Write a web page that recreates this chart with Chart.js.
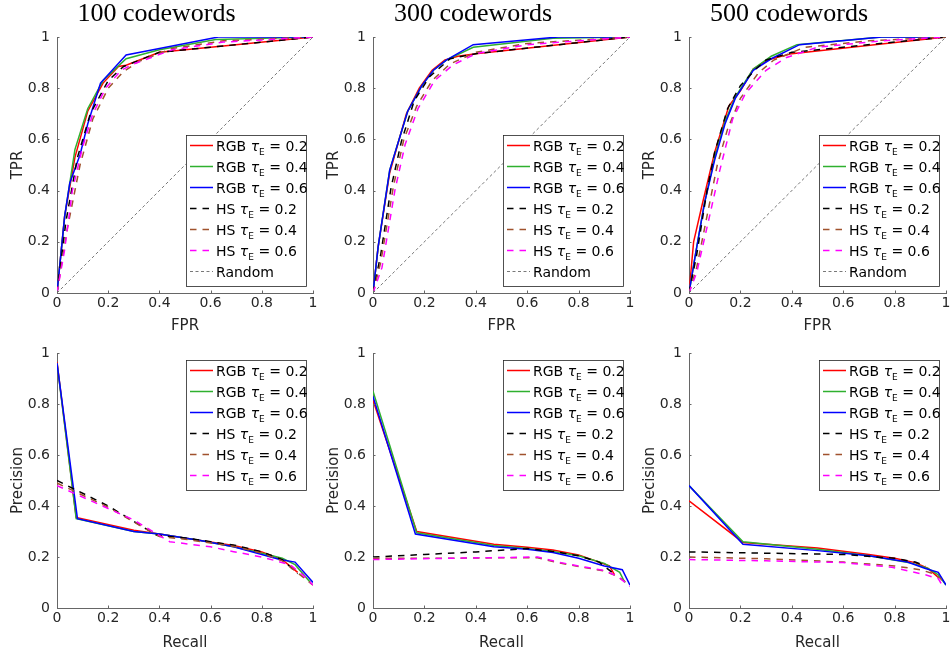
<!DOCTYPE html>
<html>
<head>
<meta charset="utf-8">
<script src="https://cdn.jsdelivr.net/npm/chart.js@4.4.0/dist/chart.umd.min.js"></script>
<style>
html, body { margin: 0; padding: 0; background: #fff; overflow: hidden; }
#wrap { position: relative; width: 951px; height: 654px; }
canvas { position: absolute; }
</style>
</head>
<body>
<div id="wrap">
    <canvas id="roc100"></canvas>
    <canvas id="roc300"></canvas>
    <canvas id="roc500"></canvas>
    <canvas id="pr100"></canvas>
    <canvas id="pr300"></canvas>
    <canvas id="pr500"></canvas>
</div>
<script>
// ---- data: [x, y] pairs ----
const panelTitles = ['100 codewords', '300 codewords', '500 codewords'];
const tickValues = [0, 0.2, 0.4, 0.6, 0.8, 1];
const randomLine = [[0, 0], [1, 1]];

// ROC, 100 codewords (FPR, TPR)
const roc100Rgb02 = [[0, 0], [0.03, 0.3], [0.07, 0.53], [0.12, 0.71], [0.18, 0.82], [0.24, 0.885], [0.27, 0.89], [0.4, 0.94], [0.65, 0.965], [1, 1]];
const roc100Rgb04 = [[0, 0], [0.03, 0.3], [0.07, 0.56], [0.12, 0.72], [0.18, 0.83], [0.27, 0.915], [0.4, 0.95], [0.62, 0.99], [1, 1]];
const roc100Rgb06 = [[0, 0], [0.03, 0.3], [0.05, 0.43], [0.09, 0.54], [0.12, 0.66], [0.17, 0.82], [0.27, 0.93], [0.4, 0.955], [0.63, 1], [1, 1]];
const roc100Hs02 = [[0, 0], [0.035, 0.28], [0.08, 0.53], [0.13, 0.7], [0.2, 0.83], [0.26, 0.885], [0.4, 0.94], [0.65, 0.965], [1, 1]];
const roc100Hs04 = [[0, 0], [0.04, 0.25], [0.09, 0.5], [0.14, 0.68], [0.2, 0.8], [0.26, 0.865], [0.32, 0.905], [0.45, 0.955], [0.65, 0.985], [1, 1]];
const roc100Hs06 = [[0, 0], [0.03, 0.17], [0.06, 0.4], [0.1, 0.57], [0.14, 0.7], [0.19, 0.8], [0.25, 0.87], [0.3, 0.895], [0.45, 0.95], [0.65, 0.98], [1, 1]];

// ROC, 300 codewords
const roc300Rgb02 = [[0, 0], [0.02, 0.18], [0.065, 0.47], [0.13, 0.7], [0.18, 0.8], [0.23, 0.87], [0.28, 0.91], [0.33, 0.925], [0.4, 0.935], [1, 1]];
const roc300Rgb04 = [[0, 0], [0.02, 0.18], [0.065, 0.48], [0.135, 0.71], [0.19, 0.81], [0.235, 0.87], [0.285, 0.91], [0.39, 0.96], [0.7, 0.995], [1, 1]];
const roc300Rgb06 = [[0, 0], [0.02, 0.18], [0.065, 0.48], [0.135, 0.71], [0.19, 0.81], [0.235, 0.87], [0.285, 0.91], [0.39, 0.97], [0.72, 1], [1, 1]];
const roc300Hs02 = [[0, 0], [0.03, 0.15], [0.07, 0.41], [0.11, 0.59], [0.16, 0.75], [0.22, 0.845], [0.3, 0.915], [0.4, 0.935], [1, 1]];
const roc300Hs04 = [[0, 0], [0.03, 0.12], [0.08, 0.42], [0.12, 0.6], [0.17, 0.73], [0.23, 0.83], [0.3, 0.895], [0.4, 0.94], [0.6, 0.975], [1, 1]];
const roc300Hs06 = [[0, 0], [0.035, 0.1], [0.085, 0.4], [0.125, 0.58], [0.175, 0.72], [0.24, 0.83], [0.31, 0.89], [0.4, 0.935], [0.6, 0.97], [1, 1]];

// ROC, 500 codewords
const roc500Rgb02 = [[0, 0], [0.018, 0.2], [0.05, 0.34], [0.1, 0.55], [0.155, 0.73], [0.2, 0.79], [0.25, 0.875], [0.305, 0.91], [0.4, 0.935], [1, 1]];
const roc500Rgb04 = [[0, 0], [0.025, 0.15], [0.06, 0.35], [0.1, 0.53], [0.14, 0.67], [0.18, 0.765], [0.25, 0.875], [0.32, 0.925], [0.42, 0.97], [0.75, 1], [1, 1]];
const roc500Rgb06 = [[0, 0], [0.025, 0.15], [0.06, 0.35], [0.1, 0.52], [0.14, 0.66], [0.18, 0.76], [0.25, 0.87], [0.32, 0.915], [0.43, 0.97], [0.75, 1], [1, 1]];
const roc500Hs02 = [[0, 0], [0.03, 0.15], [0.07, 0.4], [0.1, 0.55], [0.15, 0.72], [0.2, 0.81], [0.26, 0.875], [0.3, 0.91], [0.4, 0.94], [1, 1]];
const roc500Hs04 = [[0, 0], [0.03, 0.1], [0.07, 0.3], [0.11, 0.5], [0.15, 0.64], [0.2, 0.76], [0.27, 0.86], [0.33, 0.91], [0.45, 0.96], [0.7, 0.985], [1, 1]];
const roc500Hs06 = [[0, 0], [0.03, 0.08], [0.08, 0.3], [0.12, 0.48], [0.17, 0.68], [0.22, 0.78], [0.3, 0.87], [0.38, 0.92], [0.5, 0.96], [0.75, 0.985], [1, 1]];

// Precision-recall, 100 codewords (Recall, Precision)
const pr100Rgb02 = [[0, 0.965], [0.075, 0.355], [0.3, 0.305], [0.4, 0.29], [0.56, 0.265], [0.69, 0.245], [0.8, 0.22], [0.88, 0.19], [0.94, 0.14]];
const pr100Rgb04 = [[0, 0.96], [0.075, 0.35], [0.3, 0.3], [0.4, 0.29], [0.56, 0.265], [0.69, 0.24], [0.8, 0.215], [0.88, 0.195], [0.93, 0.17], [0.99, 0.1]];
const pr100Rgb06 = [[0, 0.96], [0.08, 0.35], [0.3, 0.3], [0.4, 0.29], [0.56, 0.265], [0.69, 0.24], [0.8, 0.21], [0.87, 0.19], [0.93, 0.18], [1, 0.1]];
const pr100Hs02 = [[0, 0.5], [0.2, 0.4], [0.39, 0.285], [0.5, 0.275], [0.6, 0.26], [0.7, 0.245], [0.8, 0.22], [0.88, 0.19], [0.94, 0.135]];
const pr100Hs04 = [[0, 0.49], [0.2, 0.395], [0.4, 0.28], [0.5, 0.27], [0.6, 0.255], [0.7, 0.24], [0.8, 0.215], [0.88, 0.185], [0.95, 0.13], [1, 0.09]];
const pr100Hs06 = [[0, 0.48], [0.2, 0.39], [0.3, 0.345], [0.44, 0.26], [0.6, 0.24], [0.69, 0.221], [0.8, 0.2], [0.91, 0.17], [0.96, 0.13], [1, 0.09]];

// Precision-recall, 300 codewords
const pr300Rgb02 = [[0, 0.815], [0.17, 0.3], [0.47, 0.25], [0.6, 0.238], [0.7, 0.227], [0.8, 0.208], [0.88, 0.18], [0.92, 0.165], [0.94, 0.13]];
const pr300Rgb04 = [[0, 0.85], [0.17, 0.295], [0.47, 0.245], [0.6, 0.233], [0.7, 0.222], [0.8, 0.205], [0.9, 0.175], [0.96, 0.14], [0.98, 0.1]];
const pr300Rgb06 = [[0, 0.83], [0.165, 0.29], [0.47, 0.24], [0.6, 0.23], [0.7, 0.218], [0.8, 0.195], [0.9, 0.165], [0.97, 0.15], [1, 0.09]];
const pr300Hs02 = [[0, 0.2], [0.2, 0.21], [0.4, 0.22], [0.6, 0.233], [0.7, 0.222], [0.8, 0.205], [0.88, 0.18], [0.93, 0.14]];
const pr300Hs04 = [[0, 0.195], [0.3, 0.195], [0.5, 0.197], [0.64, 0.197], [0.72, 0.178], [0.8, 0.163], [0.9, 0.145], [0.95, 0.125], [1, 0.09]];
const pr300Hs06 = [[0, 0.19], [0.3, 0.195], [0.5, 0.198], [0.64, 0.2], [0.72, 0.18], [0.8, 0.165], [0.9, 0.147], [0.95, 0.125], [1, 0.085]];

// Precision-recall, 500 codewords
const pr500Rgb02 = [[0, 0.42], [0.21, 0.257], [0.5, 0.235], [0.7, 0.21], [0.8, 0.195], [0.88, 0.178], [0.93, 0.155], [0.97, 0.12]];
const pr500Rgb04 = [[0, 0.48], [0.21, 0.26], [0.5, 0.23], [0.7, 0.205], [0.87, 0.175], [0.93, 0.155], [0.97, 0.13], [1, 0.09]];
const pr500Rgb06 = [[0, 0.48], [0.21, 0.25], [0.5, 0.225], [0.7, 0.205], [0.85, 0.18], [0.92, 0.155], [0.97, 0.14], [1, 0.09]];
const pr500Hs02 = [[0, 0.22], [0.3, 0.215], [0.6, 0.21], [0.8, 0.195], [0.88, 0.18], [0.92, 0.165]];
const pr500Hs04 = [[0, 0.2], [0.3, 0.193], [0.6, 0.18], [0.8, 0.165], [0.9, 0.15], [0.95, 0.135], [0.98, 0.115], [0.99, 0.09]];
const pr500Hs06 = [[0, 0.19], [0.3, 0.185], [0.6, 0.178], [0.79, 0.16], [0.92, 0.13], [0.97, 0.115], [0.99, 0.08]];

// ---- styles ----
const axisColor = '#666666';
const textColor = '#262626';
const seriesStyles = [
    { name: 'RGB', tau: '0.2', color: '#ff0000', dash: [] },
    { name: 'RGB', tau: '0.4', color: '#2fb02f', dash: [] },
    { name: 'RGB', tau: '0.6', color: '#0000ff', dash: [] },
    { name: 'HS', tau: '0.2', color: '#000000', dash: [6.5, 6] },
    { name: 'HS', tau: '0.4', color: '#a0522d', dash: [6.5, 6] },
    { name: 'HS', tau: '0.6', color: '#ff00ff', dash: [6.5, 6] }
];
const colLeft = [57, 373, 689];
const colWidth = [256, 257, 257];

let panels = [
    { id: 'roc100', col: 0, row: 0, curves: [roc100Rgb02, roc100Rgb04, roc100Rgb06, roc100Hs02, roc100Hs04, roc100Hs06], xTitle: 'FPR', yTitle: 'TPR' },
    { id: 'roc300', col: 1, row: 0, curves: [roc300Rgb02, roc300Rgb04, roc300Rgb06, roc300Hs02, roc300Hs04, roc300Hs06], xTitle: 'FPR', yTitle: 'TPR' },
    { id: 'roc500', col: 2, row: 0, curves: [roc500Rgb02, roc500Rgb04, roc500Rgb06, roc500Hs02, roc500Hs04, roc500Hs06], xTitle: 'FPR', yTitle: 'TPR' },
    { id: 'pr100', col: 0, row: 1, curves: [pr100Rgb02, pr100Rgb04, pr100Rgb06, pr100Hs02, pr100Hs04, pr100Hs06], xTitle: 'Recall', yTitle: 'Precision' },
    { id: 'pr300', col: 1, row: 1, curves: [pr300Rgb02, pr300Rgb04, pr300Rgb06, pr300Hs02, pr300Hs04, pr300Hs06], xTitle: 'Recall', yTitle: 'Precision' },
    { id: 'pr500', col: 2, row: 1, curves: [pr500Rgb02, pr500Rgb04, pr500Rgb06, pr500Hs02, pr500Hs04, pr500Hs06], xTitle: 'Recall', yTitle: 'Precision' }
];

// MATLAB-like inward ticks and a boxed legend with tau_E subscripts
const matlabLook = {
    id: 'matlabLook',
    afterDatasetsDraw: function (chart, args, opts) {
        let ctx = chart.ctx;
        let area = chart.chartArea;
        let xs = chart.scales.x;
        let ys = chart.scales.y;
        ctx.save();
        ctx.strokeStyle = axisColor;
        ctx.lineWidth = 1;
        ctx.setLineDash([]);
        tickValues.forEach(v => {
            let px = Math.round(xs.getPixelForValue(v)) + 0.5;
            ctx.beginPath();
            ctx.moveTo(px, area.bottom);
            ctx.lineTo(px, area.bottom - 2.5);
            ctx.stroke();
            let py = Math.round(ys.getPixelForValue(v)) + 0.5;
            ctx.beginPath();
            ctx.moveTo(area.left, py);
            ctx.lineTo(area.left + 2.5, py);
            ctx.stroke();
        });

        // legend
        let items = chart.data.datasets;
        let rowH = 21;
        let boxW = 120;
        let boxH = items.length * rowH + 4;
        let boxRight = area.right - 7;
        let boxLeft = boxRight - boxW;
        let boxTop = opts.corner === 'top' ? area.top + 7 : area.bottom - 7 - boxH;
        ctx.fillStyle = '#ffffff';
        ctx.fillRect(boxLeft, boxTop, boxW, boxH);
        ctx.strokeStyle = '#262626';
        ctx.lineWidth = 0.8;
        ctx.strokeRect(Math.round(boxLeft) + 0.5, Math.round(boxTop) + 0.5, boxW, boxH);

        items.forEach((ds, i) => {
            let cy = boxTop + 10.5 + i * rowH;
            ctx.strokeStyle = ds.borderColor;
            ctx.lineWidth = ds.borderWidth;
            ctx.setLineDash(ds.borderDash || []);
            ctx.beginPath();
            ctx.moveTo(boxLeft + 4, cy);
            ctx.lineTo(boxLeft + 27, cy);
            ctx.stroke();
            ctx.setLineDash([]);

            let tx = boxLeft + 30;
            let base = cy + 5;
            ctx.fillStyle = '#000000';
            ctx.textBaseline = 'alphabetic';
            ctx.textAlign = 'left';
            ctx.font = '14px "DejaVu Sans"';
            if (ds.tau === undefined) {
                ctx.fillText(ds.label, tx, base);
                return;
            }
            let part = ds.seriesName + ' ';
            ctx.fillText(part, tx, base);
            tx += ctx.measureText(part).width;
            ctx.font = 'italic 14px "DejaVu Sans"';
            ctx.fillText('\u03c4', tx, base);
            tx += ctx.measureText('\u03c4').width;
            ctx.font = '9px "DejaVu Sans"';
            ctx.fillText('E', tx, base + 4.5);
            tx += ctx.measureText('E').width;
            ctx.font = '14px "DejaVu Sans"';
            ctx.fillText(' = ' + ds.tau, tx, base);
        });
        ctx.restore();
    }
};

function tickText(v) {
    if (v === 0) return '0';
    if (v === 1) return '1';
    return v.toFixed(1);
}

function toPoints(pairs) {
    return pairs.map(p => ({ x: p[0], y: p[1] }));
}

panels.forEach(p => {
    let canvas = document.getElementById(p.id);
    let isTop = p.row === 0;
    let canvasLeft = colLeft[p.col] - 57;
    let canvasWidth = 57 + colWidth[p.col] + 12;
    let canvasTop = isTop ? 0 : 330;
    let canvasHeight = isTop ? 345 : 324;
    canvas.width = canvasWidth;
    canvas.height = canvasHeight;
    canvas.style.left = canvasLeft + 'px';
    canvas.style.top = canvasTop + 'px';
    canvas.style.width = canvasWidth + 'px';
    canvas.style.height = canvasHeight + 'px';

    let datasets = p.curves.map((pts, i) => ({
        label: seriesStyles[i].name + ' tau_E = ' + seriesStyles[i].tau,
        seriesName: seriesStyles[i].name,
        tau: seriesStyles[i].tau,
        data: toPoints(pts),
        borderColor: seriesStyles[i].color,
        borderWidth: 1.5,
        borderDash: seriesStyles[i].dash,
        pointRadius: 0,
        fill: false,
        tension: 0,
        order: 20 - i
    }));
    if (isTop) {
        datasets.push({
            label: 'Random',
            data: toPoints(randomLine),
            borderColor: '#555555',
            borderWidth: 0.8,
            borderDash: [3, 2.5],
            pointRadius: 0,
            fill: false,
            tension: 0,
            order: 20 - 6
        });
    }

    let xH = isTop ? 42 : 44;
    let padBottom = isTop ? 10 : 2;
    let config = {
        type: 'line',
        data: { datasets: datasets },
        plugins: [matlabLook],
        options: {
            responsive: false,
            animation: false,
            events: [],
            layout: {
                padding: { left: 0, right: 12, top: isTop ? 0 : 23, bottom: padBottom }
            },
            scales: {
                x: {
                    type: 'linear', min: 0, max: 1,
                    grid: { display: false, drawTicks: false },
                    border: { display: true, color: axisColor, width: 1 },
                    ticks: {
                        stepSize: 0.2, padding: 2, color: textColor, maxRotation: 0, autoSkip: false,
                        font: { family: 'DejaVu Sans', size: 14 },
                        callback: tickText
                    },
                    title: { display: true, text: p.xTitle, color: textColor, padding: 0, font: { family: 'DejaVu Sans', size: 15 } },
                    afterFit: s => { s.height = xH; }
                },
                y: {
                    type: 'linear', min: 0, max: 1,
                    grid: { display: false, drawTicks: false },
                    border: { display: true, color: axisColor, width: 1 },
                    ticks: {
                        stepSize: 0.2, padding: 7, color: textColor, autoSkip: false,
                        font: { family: 'DejaVu Sans', size: 14 },
                        callback: tickText
                    },
                    title: { display: true, text: p.yTitle, color: textColor, padding: { top: 9, bottom: 0 }, font: { family: 'DejaVu Sans', size: 15 } },
                    afterFit: s => { s.width = 57; }
                }
            },
            plugins: {
                legend: { display: false },
                tooltip: { enabled: false },
                title: {
                    display: isTop,
                    text: isTop ? panelTitles[p.col] : '',
                    color: '#000000',
                    font: { family: 'Liberation Serif', size: 26, weight: 'normal', lineHeight: 1.1 },
                    padding: { top: 0, bottom: 8.4 }
                },
                matlabLook: { corner: isTop ? 'bottom' : 'top' }
            }
        }
    };
    let chart = new Chart(canvas.getContext('2d'), config);
});
</script>
</body>
</html>
